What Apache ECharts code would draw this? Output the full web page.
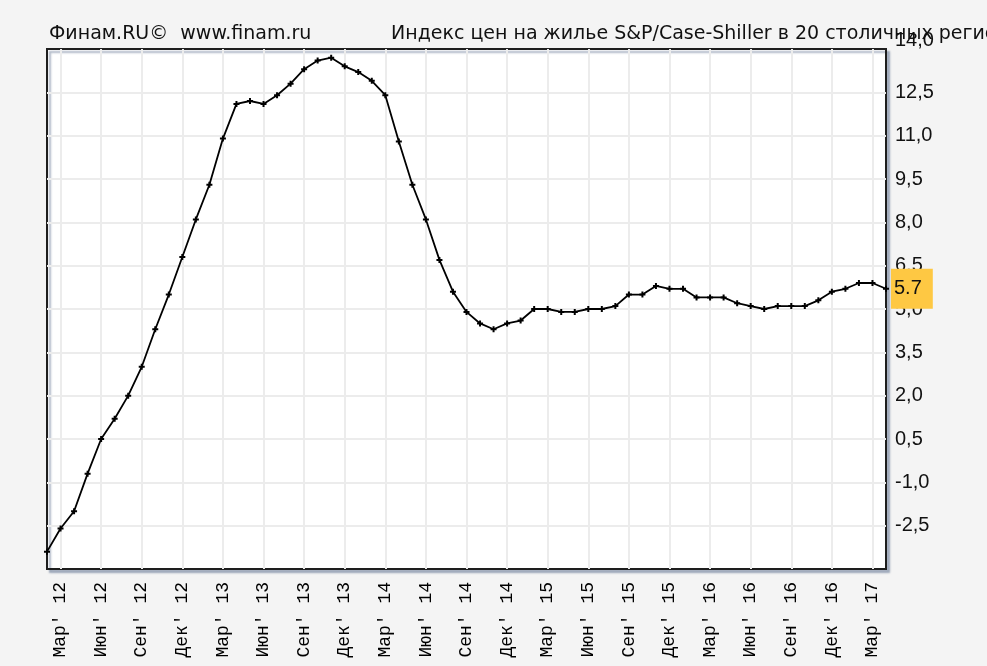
<!DOCTYPE html>
<html>
<head>
<meta charset="utf-8">
<title>Case-Shiller 20</title>
<script src="https://cdn.jsdelivr.net/npm/echarts@6/dist/echarts.min.js"></script>
<style>
  html, body { margin: 0; padding: 0; background: #f4f4f4; }
  #main { width: 987px; height: 666px; }
</style>
</head>
<body>
<div id="main"></div>
<script>
// месяцы, фев 2012 - апр 2017
var months = [
  "Фев' 12", "Мар' 12", "Апр' 12", "Май' 12", "Июн' 12", "Июл' 12", "Авг' 12", "Сен' 12", "Окт' 12", "Ноя' 12", "Дек' 12",
  "Янв' 13", "Фев' 13", "Мар' 13", "Апр' 13", "Май' 13", "Июн' 13", "Июл' 13", "Авг' 13", "Сен' 13", "Окт' 13", "Ноя' 13", "Дек' 13",
  "Янв' 14", "Фев' 14", "Мар' 14", "Апр' 14", "Май' 14", "Июн' 14", "Июл' 14", "Авг' 14", "Сен' 14", "Окт' 14", "Ноя' 14", "Дек' 14",
  "Янв' 15", "Фев' 15", "Мар' 15", "Апр' 15", "Май' 15", "Июн' 15", "Июл' 15", "Авг' 15", "Сен' 15", "Окт' 15", "Ноя' 15", "Дек' 15",
  "Янв' 16", "Фев' 16", "Мар' 16", "Апр' 16", "Май' 16", "Июн' 16", "Июл' 16", "Авг' 16", "Сен' 16", "Окт' 16", "Ноя' 16", "Дек' 16",
  "Янв' 17", "Фев' 17", "Мар' 17", "Апр' 17"
];
// индекс, % г/г
var values = [
  -3.4, -2.6, -2.0, -0.7, 0.5, 1.2, 2.0, 3.0, 4.3, 5.5, 6.8,
  8.1, 9.3, 10.9, 12.1, 12.2, 12.1, 12.4, 12.8, 13.3, 13.6, 13.7, 13.4,
  13.2, 12.9, 12.4, 10.8, 9.3, 8.1, 6.7, 5.6, 4.9, 4.5, 4.3, 4.5,
  4.6, 5.0, 5.0, 4.9, 4.9, 5.0, 5.0, 5.1, 5.5, 5.5, 5.8, 5.7,
  5.7, 5.4, 5.4, 5.4, 5.2, 5.1, 5.0, 5.1, 5.1, 5.1, 5.3, 5.6,
  5.7, 5.9, 5.9, 5.7
];
// подписи по оси X только для мар/июн/сен/дек
var labelMonths = ['Мар', 'Июн', 'Сен', 'Дек'];
var yMin = -4, yMax = 14, yStep = 1.5;

var leftTitle = 'Финам.RU©  www.finam.ru';
var rightTitle = 'Индекс цен на жилье S&P/Case-Shiller в 20 столичных регионах';

function isQuarter(i) {
  return labelMonths.indexOf(months[i].slice(0, 3)) >= 0;
}

var myChart = echarts.init(document.getElementById('main'));

var titleStyle = { fontFamily: 'DejaVu Sans', fontSize: 19, fontWeight: 'normal', color: '#111' };

var option = {
  backgroundColor: '#f4f4f4',
  animation: false,
  title: [{
    text: leftTitle,
    left: 44, top: 20,
    textStyle: titleStyle
  }, {
    text: rightTitle,
    left: 386, top: 20,
    textStyle: titleStyle
  }],
  grid: {
    left: 47, top: 49, right: 101, bottom: 97,
    show: true,
    backgroundColor: '#ffffff',
    borderColor: '#1e1e1e',
    borderWidth: 2,
    shadowColor: 'rgba(120,135,160,0.6)',
    shadowOffsetX: 3,
    shadowOffsetY: 3,
    shadowBlur: 2
  },
  xAxis: {
    type: 'category',
    data: months,
    boundaryGap: false,
    axisLine: { show: false },
    axisTick: { show: false },
    axisLabel: {
      rotate: 90,
      margin: 13,
      interval: function (i) { return isQuarter(i); },
      fontFamily: 'Liberation Mono',
      fontSize: 18,
      color: '#000'
    },
    splitLine: {
      show: true,
      interval: function (i) { return isQuarter(i); },
      lineStyle: { color: '#ececec', width: 2 }
    }
  },
  yAxis: {
    type: 'value',
    position: 'right',
    min: yMin, max: yMax, interval: yStep,
    axisLine: { show: false },
    axisTick: { show: false },
    axisLabel: {
      margin: 9,
      fontFamily: 'Liberation Sans',
      fontSize: 20,
      color: '#111',
      formatter: function (v) {
        if (v === yMin) return '';
        var s = v.toFixed(1).replace('.', ',');
        return v === yMax ? '{top|' + s + '}' : s;
      },
      rich: {
        top: { fontFamily: 'Liberation Sans', fontSize: 20, color: '#111', padding: [0, 0, 17, 0] }
      }
    },
    splitLine: {
      show: true,
      showMinLine: false,
      showMaxLine: false,
      lineStyle: { color: '#ececec', width: 2 }
    }
  },
  series: [{
    type: 'line',
    data: values,
    symbol: 'path://M2,0H4V2H6V4H4V6H2V4H0V2H2Z',
    symbolSize: 6,
    itemStyle: { color: '#000' },
    lineStyle: { color: '#000', width: 1.8 },
    endLabel: {
      show: true,
      distance: 5,
      formatter: function (p) { return String(p.value); },
      backgroundColor: '#fec843',
      color: '#111',
      fontFamily: 'Liberation Sans',
      fontSize: 20,
      padding: [10, 11, 10, 3]
    }
  }]
};

myChart.setOption(option);
</script>
</body>
</html>
